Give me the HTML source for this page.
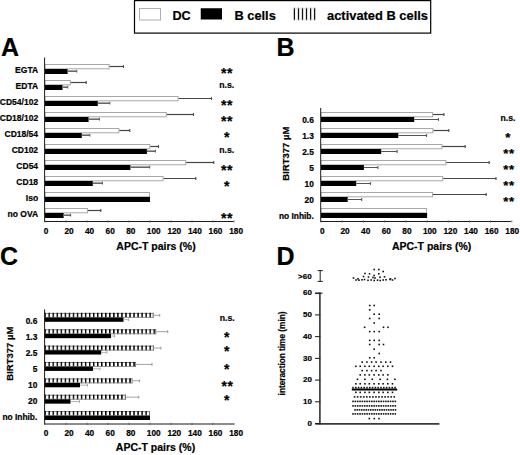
<!DOCTYPE html>
<html><head><meta charset="utf-8"><style>
html,body{margin:0;padding:0;background:#fff;}
svg{display:block;font-family:"Liberation Sans", sans-serif;}
text{stroke:#000;stroke-width:0.2px;}
</style></head><body>
<svg width="520" height="455" viewBox="0 0 520 455">
<rect width="520" height="455" fill="#fff"/>
<rect x="134.50" y="0.60" width="296.20" height="32.50" fill="none" stroke="#000" stroke-width="1.2" />
<rect x="139.50" y="8.50" width="21.00" height="11.50" fill="#fff" stroke="#b0b0b0" stroke-width="1" />
<text x="172.50" y="19.70" font-size="12.6" text-anchor="start" font-weight="bold" fill="#000" >DC</text>
<rect x="200.75" y="8.25" width="21.25" height="11.25" fill="#000" />
<text x="234.50" y="19.90" font-size="12.8" text-anchor="start" font-weight="bold" fill="#000" >B cells</text>
<line x1="294.40" y1="7.80" x2="294.40" y2="20.20" stroke="#111" stroke-width="1.3" />
<line x1="298.50" y1="7.80" x2="298.50" y2="20.20" stroke="#111" stroke-width="1.3" />
<line x1="302.50" y1="7.80" x2="302.50" y2="20.20" stroke="#111" stroke-width="1.3" />
<line x1="306.50" y1="7.80" x2="306.50" y2="20.20" stroke="#111" stroke-width="1.3" />
<line x1="310.60" y1="7.80" x2="310.60" y2="20.20" stroke="#111" stroke-width="1.3" />
<line x1="314.60" y1="7.80" x2="314.60" y2="20.20" stroke="#111" stroke-width="1.3" />
<line x1="294.00" y1="8.30" x2="315.00" y2="8.30" stroke="#ccc" stroke-width="0.6" />
<line x1="294.00" y1="19.80" x2="315.00" y2="19.80" stroke="#ccc" stroke-width="0.6" />
<text x="327.00" y="19.90" font-size="12.9" text-anchor="start" font-weight="bold" fill="#000" >activated B cells</text>
<text x="1.00" y="55.60" font-size="25" text-anchor="start" font-weight="bold" fill="#000" stroke="#000" stroke-width="0.4">A</text>
<text x="276.50" y="55.80" font-size="25" text-anchor="start" font-weight="bold" fill="#000" stroke="#000" stroke-width="0.4">B</text>
<text x="0.10" y="265.20" font-size="25" text-anchor="start" font-weight="bold" fill="#000" stroke="#000" stroke-width="0.4">C</text>
<text x="276.40" y="265.20" font-size="25" text-anchor="start" font-weight="bold" fill="#000" stroke="#000" stroke-width="0.4">D</text>
<rect x="45.00" y="64.50" width="64.10" height="4.30" fill="#fff" stroke="#a8a8a8" stroke-width="1" />
<line x1="109.60" y1="66.50" x2="123.50" y2="66.50" stroke="#454545" stroke-width="1.2" />
<line x1="123.50" y1="65.10" x2="123.50" y2="67.90" stroke="#454545" stroke-width="1.1" />
<rect x="45.00" y="69.00" width="22.60" height="5.00" fill="#000" />
<line x1="67.60" y1="71.20" x2="76.70" y2="71.20" stroke="#606060" stroke-width="1.5" />
<line x1="76.70" y1="69.80" x2="76.70" y2="72.60" stroke="#606060" stroke-width="1.1" />
<text x="38.10" y="72.80" font-size="8.5" text-anchor="end" font-weight="bold" fill="#000" >EGTA</text>
<text x="223.65" y="77.63" font-size="14.0" text-anchor="middle" font-weight="bold" fill="#000" stroke="#000" stroke-width="0.25">*</text>
<text x="229.75" y="77.63" font-size="14.0" text-anchor="middle" font-weight="bold" fill="#000" stroke="#000" stroke-width="0.25">*</text>
<rect x="45.00" y="80.50" width="25.30" height="4.30" fill="#fff" stroke="#a8a8a8" stroke-width="1" />
<line x1="70.80" y1="82.50" x2="86.20" y2="82.50" stroke="#454545" stroke-width="1.2" />
<line x1="86.20" y1="81.10" x2="86.20" y2="83.90" stroke="#454545" stroke-width="1.1" />
<rect x="45.00" y="85.00" width="17.50" height="5.00" fill="#000" />
<line x1="62.50" y1="87.20" x2="67.70" y2="87.20" stroke="#606060" stroke-width="1.5" />
<line x1="67.70" y1="85.80" x2="67.70" y2="88.60" stroke="#606060" stroke-width="1.1" />
<text x="38.10" y="88.85" font-size="8.5" text-anchor="end" font-weight="bold" fill="#000" >EDTA</text>
<text x="226.70" y="88.00" font-size="8.7" text-anchor="middle" font-weight="bold" fill="#000" >n.s.</text>
<rect x="45.00" y="96.50" width="133.10" height="4.30" fill="#fff" stroke="#a8a8a8" stroke-width="1" />
<line x1="178.60" y1="98.50" x2="211.50" y2="98.50" stroke="#454545" stroke-width="1.2" />
<line x1="211.50" y1="97.10" x2="211.50" y2="99.90" stroke="#454545" stroke-width="1.1" />
<rect x="45.00" y="101.00" width="52.80" height="5.00" fill="#000" />
<line x1="97.80" y1="103.20" x2="109.80" y2="103.20" stroke="#606060" stroke-width="1.5" />
<line x1="109.80" y1="101.80" x2="109.80" y2="104.60" stroke="#606060" stroke-width="1.1" />
<text x="38.10" y="104.90" font-size="8.5" text-anchor="end" font-weight="bold" fill="#000" >CD54/102</text>
<text x="223.65" y="109.93" font-size="14.0" text-anchor="middle" font-weight="bold" fill="#000" stroke="#000" stroke-width="0.25">*</text>
<text x="229.75" y="109.93" font-size="14.0" text-anchor="middle" font-weight="bold" fill="#000" stroke="#000" stroke-width="0.25">*</text>
<rect x="45.00" y="112.50" width="121.30" height="4.30" fill="#fff" stroke="#a8a8a8" stroke-width="1" />
<line x1="166.80" y1="114.50" x2="193.50" y2="114.50" stroke="#454545" stroke-width="1.2" />
<line x1="193.50" y1="113.10" x2="193.50" y2="115.90" stroke="#454545" stroke-width="1.1" />
<rect x="45.00" y="117.00" width="43.60" height="5.00" fill="#000" />
<line x1="88.60" y1="119.20" x2="99.40" y2="119.20" stroke="#606060" stroke-width="1.5" />
<line x1="99.40" y1="117.80" x2="99.40" y2="120.60" stroke="#606060" stroke-width="1.1" />
<text x="38.10" y="120.95" font-size="8.5" text-anchor="end" font-weight="bold" fill="#000" >CD18/102</text>
<text x="223.65" y="126.08" font-size="14.0" text-anchor="middle" font-weight="bold" fill="#000" stroke="#000" stroke-width="0.25">*</text>
<text x="229.75" y="126.08" font-size="14.0" text-anchor="middle" font-weight="bold" fill="#000" stroke="#000" stroke-width="0.25">*</text>
<rect x="45.00" y="128.50" width="73.90" height="4.30" fill="#fff" stroke="#a8a8a8" stroke-width="1" />
<line x1="119.40" y1="130.50" x2="129.80" y2="130.50" stroke="#454545" stroke-width="1.2" />
<line x1="129.80" y1="129.10" x2="129.80" y2="131.90" stroke="#454545" stroke-width="1.1" />
<rect x="45.00" y="133.00" width="36.80" height="5.00" fill="#000" />
<line x1="81.80" y1="135.20" x2="89.80" y2="135.20" stroke="#606060" stroke-width="1.5" />
<line x1="89.80" y1="133.80" x2="89.80" y2="136.60" stroke="#606060" stroke-width="1.1" />
<text x="38.10" y="137.00" font-size="8.5" text-anchor="end" font-weight="bold" fill="#000" >CD18/54</text>
<text x="226.70" y="142.23" font-size="14.0" text-anchor="middle" font-weight="bold" fill="#000" stroke="#000" stroke-width="0.25">*</text>
<rect x="45.00" y="144.50" width="104.90" height="4.30" fill="#fff" stroke="#a8a8a8" stroke-width="1" />
<line x1="150.40" y1="146.50" x2="158.50" y2="146.50" stroke="#454545" stroke-width="1.2" />
<line x1="158.50" y1="145.10" x2="158.50" y2="147.90" stroke="#454545" stroke-width="1.1" />
<rect x="45.00" y="149.00" width="101.90" height="5.00" fill="#000" />
<line x1="146.90" y1="151.20" x2="155.40" y2="151.20" stroke="#606060" stroke-width="1.5" />
<line x1="155.40" y1="149.80" x2="155.40" y2="152.60" stroke="#606060" stroke-width="1.1" />
<text x="38.10" y="153.05" font-size="8.5" text-anchor="end" font-weight="bold" fill="#000" >CD102</text>
<text x="226.70" y="153.00" font-size="8.7" text-anchor="middle" font-weight="bold" fill="#000" >n.s.</text>
<rect x="45.00" y="160.50" width="140.70" height="4.30" fill="#fff" stroke="#a8a8a8" stroke-width="1" />
<line x1="186.20" y1="162.50" x2="213.80" y2="162.50" stroke="#454545" stroke-width="1.2" />
<line x1="213.80" y1="161.10" x2="213.80" y2="163.90" stroke="#454545" stroke-width="1.1" />
<rect x="45.00" y="165.00" width="85.40" height="5.00" fill="#000" />
<line x1="130.40" y1="167.20" x2="149.60" y2="167.20" stroke="#606060" stroke-width="1.5" />
<line x1="149.60" y1="165.80" x2="149.60" y2="168.60" stroke="#606060" stroke-width="1.1" />
<text x="38.10" y="169.10" font-size="8.5" text-anchor="end" font-weight="bold" fill="#000" >CD54</text>
<text x="223.65" y="174.53" font-size="14.0" text-anchor="middle" font-weight="bold" fill="#000" stroke="#000" stroke-width="0.25">*</text>
<text x="229.75" y="174.53" font-size="14.0" text-anchor="middle" font-weight="bold" fill="#000" stroke="#000" stroke-width="0.25">*</text>
<rect x="45.00" y="176.50" width="118.10" height="4.30" fill="#fff" stroke="#a8a8a8" stroke-width="1" />
<line x1="163.60" y1="178.50" x2="195.80" y2="178.50" stroke="#454545" stroke-width="1.2" />
<line x1="195.80" y1="177.10" x2="195.80" y2="179.90" stroke="#454545" stroke-width="1.1" />
<rect x="45.00" y="181.00" width="47.80" height="5.00" fill="#000" />
<line x1="92.80" y1="183.20" x2="102.40" y2="183.20" stroke="#606060" stroke-width="1.5" />
<line x1="102.40" y1="181.80" x2="102.40" y2="184.60" stroke="#606060" stroke-width="1.1" />
<text x="38.10" y="185.15" font-size="8.5" text-anchor="end" font-weight="bold" fill="#000" >CD18</text>
<text x="226.70" y="190.68" font-size="14.0" text-anchor="middle" font-weight="bold" fill="#000" stroke="#000" stroke-width="0.25">*</text>
<rect x="45.00" y="192.50" width="104.50" height="4.30" fill="#fff" stroke="#a8a8a8" stroke-width="1" />
<rect x="45.00" y="197.00" width="105.00" height="5.00" fill="#000" />
<text x="38.10" y="201.20" font-size="8.5" text-anchor="end" font-weight="bold" fill="#000" >Iso</text>
<rect x="45.00" y="208.50" width="42.50" height="4.30" fill="#fff" stroke="#a8a8a8" stroke-width="1" />
<line x1="88.00" y1="210.50" x2="100.80" y2="210.50" stroke="#454545" stroke-width="1.2" />
<line x1="100.80" y1="209.10" x2="100.80" y2="211.90" stroke="#454545" stroke-width="1.1" />
<rect x="45.00" y="213.00" width="18.60" height="5.00" fill="#000" />
<line x1="63.60" y1="215.20" x2="70.60" y2="215.20" stroke="#606060" stroke-width="1.5" />
<line x1="70.60" y1="213.80" x2="70.60" y2="216.60" stroke="#606060" stroke-width="1.1" />
<text x="38.10" y="217.25" font-size="8.5" text-anchor="end" font-weight="bold" fill="#000" >no OVA</text>
<text x="223.65" y="222.98" font-size="14.0" text-anchor="middle" font-weight="bold" fill="#000" stroke="#000" stroke-width="0.25">*</text>
<text x="229.75" y="222.98" font-size="14.0" text-anchor="middle" font-weight="bold" fill="#000" stroke="#000" stroke-width="0.25">*</text>
<line x1="44.60" y1="57.50" x2="44.60" y2="222.00" stroke="#1a1a1a" stroke-width="1" />
<line x1="44.60" y1="221.50" x2="233.60" y2="221.50" stroke="#1a1a1a" stroke-width="1" />
<line x1="45.00" y1="220.30" x2="45.00" y2="222.60" stroke="#555" stroke-width="0.8" />
<text x="43.80" y="233.80" font-size="8.3" text-anchor="start" font-weight="bold" fill="#000" >0</text>
<line x1="66.00" y1="220.30" x2="66.00" y2="222.60" stroke="#555" stroke-width="0.8" />
<text x="64.40" y="233.80" font-size="8.3" text-anchor="start" font-weight="bold" fill="#000" >20</text>
<line x1="87.00" y1="220.30" x2="87.00" y2="222.60" stroke="#555" stroke-width="0.8" />
<text x="85.00" y="233.80" font-size="8.3" text-anchor="start" font-weight="bold" fill="#000" >40</text>
<line x1="108.00" y1="220.30" x2="108.00" y2="222.60" stroke="#555" stroke-width="0.8" />
<text x="105.60" y="233.80" font-size="8.3" text-anchor="start" font-weight="bold" fill="#000" >60</text>
<line x1="129.00" y1="220.30" x2="129.00" y2="222.60" stroke="#555" stroke-width="0.8" />
<text x="126.20" y="233.80" font-size="8.3" text-anchor="start" font-weight="bold" fill="#000" >80</text>
<line x1="150.00" y1="220.30" x2="150.00" y2="222.60" stroke="#555" stroke-width="0.8" />
<text x="146.80" y="233.80" font-size="8.3" text-anchor="start" font-weight="bold" fill="#000" >100</text>
<line x1="171.00" y1="220.30" x2="171.00" y2="222.60" stroke="#555" stroke-width="0.8" />
<text x="167.40" y="233.80" font-size="8.3" text-anchor="start" font-weight="bold" fill="#000" >120</text>
<line x1="192.00" y1="220.30" x2="192.00" y2="222.60" stroke="#555" stroke-width="0.8" />
<text x="188.00" y="233.80" font-size="8.3" text-anchor="start" font-weight="bold" fill="#000" >140</text>
<line x1="213.00" y1="220.30" x2="213.00" y2="222.60" stroke="#555" stroke-width="0.8" />
<text x="208.60" y="233.80" font-size="8.3" text-anchor="start" font-weight="bold" fill="#000" >160</text>
<line x1="234.00" y1="220.30" x2="234.00" y2="222.60" stroke="#555" stroke-width="0.8" />
<text x="229.20" y="233.80" font-size="8.3" text-anchor="start" font-weight="bold" fill="#000" >180</text>
<text x="116.30" y="250.40" font-size="10.5" text-anchor="start" font-weight="bold" fill="#000" >APC-T pairs (%)</text>
<rect x="321.00" y="112.50" width="111.60" height="4.30" fill="#fff" stroke="#a8a8a8" stroke-width="1" />
<line x1="433.10" y1="114.50" x2="443.90" y2="114.50" stroke="#454545" stroke-width="1.2" />
<line x1="443.90" y1="113.10" x2="443.90" y2="115.90" stroke="#454545" stroke-width="1.1" />
<rect x="321.00" y="117.00" width="93.20" height="5.00" fill="#000" />
<line x1="414.20" y1="119.50" x2="438.50" y2="119.50" stroke="#555" stroke-width="1.0" />
<line x1="438.50" y1="118.10" x2="438.50" y2="120.90" stroke="#555" stroke-width="1.1" />
<text x="313.80" y="122.50" font-size="8.4" text-anchor="end" font-weight="bold" fill="#000" >0.6</text>
<text x="507.90" y="120.50" font-size="8.7" text-anchor="middle" font-weight="bold" fill="#000" >n.s.</text>
<rect x="321.00" y="128.50" width="111.90" height="4.30" fill="#fff" stroke="#a8a8a8" stroke-width="1" />
<line x1="433.40" y1="130.50" x2="448.80" y2="130.50" stroke="#454545" stroke-width="1.2" />
<line x1="448.80" y1="129.10" x2="448.80" y2="131.90" stroke="#454545" stroke-width="1.1" />
<rect x="321.00" y="133.00" width="77.30" height="5.00" fill="#000" />
<line x1="398.30" y1="135.50" x2="426.60" y2="135.50" stroke="#555" stroke-width="1.0" />
<line x1="426.60" y1="134.10" x2="426.60" y2="136.90" stroke="#555" stroke-width="1.1" />
<text x="313.80" y="138.50" font-size="8.4" text-anchor="end" font-weight="bold" fill="#000" >1.3</text>
<text x="507.70" y="141.93" font-size="13.2" text-anchor="middle" font-weight="bold" fill="#000" stroke="#000" stroke-width="0.25">*</text>
<rect x="321.00" y="144.50" width="120.90" height="4.30" fill="#fff" stroke="#a8a8a8" stroke-width="1" />
<line x1="442.40" y1="146.50" x2="465.20" y2="146.50" stroke="#454545" stroke-width="1.2" />
<line x1="465.20" y1="145.10" x2="465.20" y2="147.90" stroke="#454545" stroke-width="1.1" />
<rect x="321.00" y="149.00" width="60.20" height="5.00" fill="#000" />
<line x1="381.20" y1="151.50" x2="397.10" y2="151.50" stroke="#555" stroke-width="1.0" />
<line x1="397.10" y1="150.10" x2="397.10" y2="152.90" stroke="#555" stroke-width="1.1" />
<text x="313.80" y="154.50" font-size="8.4" text-anchor="end" font-weight="bold" fill="#000" >2.5</text>
<text x="505.70" y="157.93" font-size="13.2" text-anchor="middle" font-weight="bold" fill="#000" stroke="#000" stroke-width="0.25">*</text>
<text x="511.50" y="157.93" font-size="13.2" text-anchor="middle" font-weight="bold" fill="#000" stroke="#000" stroke-width="0.25">*</text>
<rect x="321.00" y="160.50" width="124.90" height="4.30" fill="#fff" stroke="#a8a8a8" stroke-width="1" />
<line x1="446.40" y1="162.50" x2="489.20" y2="162.50" stroke="#454545" stroke-width="1.2" />
<line x1="489.20" y1="161.10" x2="489.20" y2="163.90" stroke="#454545" stroke-width="1.1" />
<rect x="321.00" y="165.00" width="42.90" height="5.00" fill="#000" />
<line x1="363.90" y1="167.50" x2="377.90" y2="167.50" stroke="#555" stroke-width="1.0" />
<line x1="377.90" y1="166.10" x2="377.90" y2="168.90" stroke="#555" stroke-width="1.1" />
<text x="313.80" y="170.50" font-size="8.4" text-anchor="end" font-weight="bold" fill="#000" >5</text>
<text x="505.70" y="173.93" font-size="13.2" text-anchor="middle" font-weight="bold" fill="#000" stroke="#000" stroke-width="0.25">*</text>
<text x="511.50" y="173.93" font-size="13.2" text-anchor="middle" font-weight="bold" fill="#000" stroke="#000" stroke-width="0.25">*</text>
<rect x="321.00" y="176.50" width="121.70" height="4.30" fill="#fff" stroke="#a8a8a8" stroke-width="1" />
<line x1="443.20" y1="178.50" x2="496.00" y2="178.50" stroke="#454545" stroke-width="1.2" />
<line x1="496.00" y1="177.10" x2="496.00" y2="179.90" stroke="#454545" stroke-width="1.1" />
<rect x="321.00" y="181.00" width="35.20" height="5.00" fill="#000" />
<line x1="356.20" y1="183.50" x2="370.50" y2="183.50" stroke="#555" stroke-width="1.0" />
<line x1="370.50" y1="182.10" x2="370.50" y2="184.90" stroke="#555" stroke-width="1.1" />
<text x="313.80" y="186.50" font-size="8.4" text-anchor="end" font-weight="bold" fill="#000" >10</text>
<text x="505.70" y="189.93" font-size="13.2" text-anchor="middle" font-weight="bold" fill="#000" stroke="#000" stroke-width="0.25">*</text>
<text x="511.50" y="189.93" font-size="13.2" text-anchor="middle" font-weight="bold" fill="#000" stroke="#000" stroke-width="0.25">*</text>
<rect x="321.00" y="192.50" width="111.50" height="4.30" fill="#fff" stroke="#a8a8a8" stroke-width="1" />
<line x1="433.00" y1="194.50" x2="486.20" y2="194.50" stroke="#454545" stroke-width="1.2" />
<line x1="486.20" y1="193.10" x2="486.20" y2="195.90" stroke="#454545" stroke-width="1.1" />
<rect x="321.00" y="197.00" width="26.70" height="5.00" fill="#000" />
<line x1="347.70" y1="199.50" x2="361.70" y2="199.50" stroke="#555" stroke-width="1.0" />
<line x1="361.70" y1="198.10" x2="361.70" y2="200.90" stroke="#555" stroke-width="1.1" />
<text x="313.80" y="202.50" font-size="8.4" text-anchor="end" font-weight="bold" fill="#000" >20</text>
<text x="505.70" y="205.93" font-size="13.2" text-anchor="middle" font-weight="bold" fill="#000" stroke="#000" stroke-width="0.25">*</text>
<text x="511.50" y="205.93" font-size="13.2" text-anchor="middle" font-weight="bold" fill="#000" stroke="#000" stroke-width="0.25">*</text>
<rect x="321.00" y="208.50" width="105.60" height="4.30" fill="#fff" stroke="#a8a8a8" stroke-width="1" />
<rect x="321.00" y="213.00" width="106.10" height="5.00" fill="#000" />
<text x="313.80" y="218.50" font-size="8.4" text-anchor="end" font-weight="bold" fill="#000" >no Inhib.</text>
<line x1="320.70" y1="107.90" x2="320.70" y2="222.00" stroke="#1a1a1a" stroke-width="1" />
<line x1="320.70" y1="221.50" x2="510.80" y2="221.50" stroke="#1a1a1a" stroke-width="1" />
<line x1="321.00" y1="220.30" x2="321.00" y2="222.60" stroke="#555" stroke-width="0.8" />
<text x="319.90" y="234.00" font-size="8.3" text-anchor="start" font-weight="bold" fill="#000" >0</text>
<line x1="342.20" y1="220.30" x2="342.20" y2="222.60" stroke="#555" stroke-width="0.8" />
<text x="340.50" y="234.00" font-size="8.3" text-anchor="start" font-weight="bold" fill="#000" >20</text>
<line x1="363.40" y1="220.30" x2="363.40" y2="222.60" stroke="#555" stroke-width="0.8" />
<text x="361.10" y="234.00" font-size="8.3" text-anchor="start" font-weight="bold" fill="#000" >40</text>
<line x1="384.60" y1="220.30" x2="384.60" y2="222.60" stroke="#555" stroke-width="0.8" />
<text x="381.70" y="234.00" font-size="8.3" text-anchor="start" font-weight="bold" fill="#000" >60</text>
<line x1="405.80" y1="220.30" x2="405.80" y2="222.60" stroke="#555" stroke-width="0.8" />
<text x="402.30" y="234.00" font-size="8.3" text-anchor="start" font-weight="bold" fill="#000" >80</text>
<line x1="427.00" y1="220.30" x2="427.00" y2="222.60" stroke="#555" stroke-width="0.8" />
<text x="422.90" y="234.00" font-size="8.3" text-anchor="start" font-weight="bold" fill="#000" >100</text>
<line x1="448.20" y1="220.30" x2="448.20" y2="222.60" stroke="#555" stroke-width="0.8" />
<text x="443.50" y="234.00" font-size="8.3" text-anchor="start" font-weight="bold" fill="#000" >120</text>
<line x1="469.40" y1="220.30" x2="469.40" y2="222.60" stroke="#555" stroke-width="0.8" />
<text x="464.10" y="234.00" font-size="8.3" text-anchor="start" font-weight="bold" fill="#000" >140</text>
<line x1="490.60" y1="220.30" x2="490.60" y2="222.60" stroke="#555" stroke-width="0.8" />
<text x="484.70" y="234.00" font-size="8.3" text-anchor="start" font-weight="bold" fill="#000" >160</text>
<line x1="511.80" y1="220.30" x2="511.80" y2="222.60" stroke="#555" stroke-width="0.8" />
<text x="505.30" y="234.00" font-size="8.3" text-anchor="start" font-weight="bold" fill="#000" >180</text>
<text x="391.90" y="250.00" font-size="10.5" text-anchor="start" font-weight="bold" fill="#000" >APC-T pairs (%)</text>
<text transform="translate(289.0,180.7) rotate(-90)" font-size="9.5" font-weight="bold">BIRT377 &#181;M</text>
<defs><pattern id="vs" patternUnits="userSpaceOnUse" x="44.45" y="0" width="4.04" height="10"><rect x="0" y="0" width="1.45" height="10" fill="#000"/></pattern></defs>
<rect x="44.60" y="312.80" width="108.90" height="5.00" fill="#fff" />
<line x1="44.60" y1="313.40" x2="153.50" y2="313.40" stroke="#8a8a8a" stroke-width="1" />
<rect x="44.60" y="312.80" width="108.90" height="5.00" fill="url(#vs)" />
<line x1="44.60" y1="317.40" x2="153.50" y2="317.40" stroke="#8a8a8a" stroke-width="0.9" />
<line x1="153.05" y1="312.80" x2="153.05" y2="317.80" stroke="#777" stroke-width="0.9" />
<line x1="153.50" y1="315.30" x2="159.70" y2="315.30" stroke="#999" stroke-width="0.9" />
<line x1="159.70" y1="313.90" x2="159.70" y2="316.70" stroke="#999" stroke-width="1.1" />
<rect x="44.60" y="317.50" width="78.90" height="4.30" fill="#000" />
<line x1="123.50" y1="319.70" x2="128.50" y2="319.70" stroke="#aaa" stroke-width="0.9" />
<line x1="128.50" y1="318.30" x2="128.50" y2="321.10" stroke="#aaa" stroke-width="1.1" />
<text x="37.30" y="323.90" font-size="8.4" text-anchor="end" font-weight="bold" fill="#000" >0.6</text>
<text x="227.20" y="320.70" font-size="8.7" text-anchor="middle" font-weight="bold" fill="#000" >n.s.</text>
<rect x="44.60" y="329.17" width="111.60" height="5.00" fill="#fff" />
<line x1="44.60" y1="329.77" x2="156.20" y2="329.77" stroke="#8a8a8a" stroke-width="1" />
<rect x="44.60" y="329.17" width="111.60" height="5.00" fill="url(#vs)" />
<line x1="44.60" y1="333.77" x2="156.20" y2="333.77" stroke="#8a8a8a" stroke-width="0.9" />
<line x1="155.75" y1="329.17" x2="155.75" y2="334.17" stroke="#777" stroke-width="0.9" />
<line x1="156.20" y1="331.67" x2="167.70" y2="331.67" stroke="#999" stroke-width="0.9" />
<line x1="167.70" y1="330.27" x2="167.70" y2="333.07" stroke="#999" stroke-width="1.1" />
<rect x="44.60" y="333.87" width="66.40" height="4.30" fill="#000" />
<line x1="111.00" y1="336.07" x2="114.60" y2="336.07" stroke="#aaa" stroke-width="0.9" />
<line x1="114.60" y1="334.67" x2="114.60" y2="337.47" stroke="#aaa" stroke-width="1.1" />
<text x="37.30" y="339.93" font-size="8.4" text-anchor="end" font-weight="bold" fill="#000" >1.3</text>
<text x="226.60" y="341.73" font-size="13.8" text-anchor="middle" font-weight="bold" fill="#000" stroke="#000" stroke-width="0.25">*</text>
<rect x="44.60" y="345.54" width="109.20" height="5.00" fill="#fff" />
<line x1="44.60" y1="346.14" x2="153.80" y2="346.14" stroke="#8a8a8a" stroke-width="1" />
<rect x="44.60" y="345.54" width="109.20" height="5.00" fill="url(#vs)" />
<line x1="44.60" y1="350.14" x2="153.80" y2="350.14" stroke="#8a8a8a" stroke-width="0.9" />
<line x1="153.35" y1="345.54" x2="153.35" y2="350.54" stroke="#777" stroke-width="0.9" />
<line x1="153.80" y1="348.04" x2="160.80" y2="348.04" stroke="#999" stroke-width="0.9" />
<line x1="160.80" y1="346.64" x2="160.80" y2="349.44" stroke="#999" stroke-width="1.1" />
<rect x="44.60" y="350.24" width="56.60" height="4.30" fill="#000" />
<line x1="101.20" y1="352.44" x2="106.90" y2="352.44" stroke="#aaa" stroke-width="0.9" />
<line x1="106.90" y1="351.04" x2="106.90" y2="353.84" stroke="#aaa" stroke-width="1.1" />
<text x="37.30" y="355.96" font-size="8.4" text-anchor="end" font-weight="bold" fill="#000" >2.5</text>
<text x="226.60" y="355.63" font-size="13.8" text-anchor="middle" font-weight="bold" fill="#000" stroke="#000" stroke-width="0.25">*</text>
<rect x="44.60" y="361.91" width="91.40" height="5.00" fill="#fff" />
<line x1="44.60" y1="362.51" x2="136.00" y2="362.51" stroke="#8a8a8a" stroke-width="1" />
<rect x="44.60" y="361.91" width="91.40" height="5.00" fill="url(#vs)" />
<line x1="44.60" y1="366.51" x2="136.00" y2="366.51" stroke="#8a8a8a" stroke-width="0.9" />
<line x1="135.55" y1="361.91" x2="135.55" y2="366.91" stroke="#777" stroke-width="0.9" />
<line x1="136.00" y1="364.41" x2="152.00" y2="364.41" stroke="#999" stroke-width="0.9" />
<line x1="152.00" y1="363.01" x2="152.00" y2="365.81" stroke="#999" stroke-width="1.1" />
<rect x="44.60" y="366.61" width="48.40" height="4.30" fill="#000" />
<line x1="93.00" y1="368.81" x2="100.00" y2="368.81" stroke="#aaa" stroke-width="0.9" />
<line x1="100.00" y1="367.41" x2="100.00" y2="370.21" stroke="#aaa" stroke-width="1.1" />
<text x="37.30" y="371.99" font-size="8.4" text-anchor="end" font-weight="bold" fill="#000" >5</text>
<text x="226.60" y="373.83" font-size="13.8" text-anchor="middle" font-weight="bold" fill="#000" stroke="#000" stroke-width="0.25">*</text>
<rect x="44.60" y="378.28" width="87.90" height="5.00" fill="#fff" />
<line x1="44.60" y1="378.88" x2="132.50" y2="378.88" stroke="#8a8a8a" stroke-width="1" />
<rect x="44.60" y="378.28" width="87.90" height="5.00" fill="url(#vs)" />
<line x1="44.60" y1="382.88" x2="132.50" y2="382.88" stroke="#8a8a8a" stroke-width="0.9" />
<line x1="132.05" y1="378.28" x2="132.05" y2="383.28" stroke="#777" stroke-width="0.9" />
<line x1="132.50" y1="380.78" x2="139.50" y2="380.78" stroke="#999" stroke-width="0.9" />
<line x1="139.50" y1="379.38" x2="139.50" y2="382.18" stroke="#999" stroke-width="1.1" />
<rect x="44.60" y="382.98" width="35.40" height="4.30" fill="#000" />
<line x1="80.00" y1="385.18" x2="87.50" y2="385.18" stroke="#aaa" stroke-width="0.9" />
<line x1="87.50" y1="383.78" x2="87.50" y2="386.58" stroke="#aaa" stroke-width="1.1" />
<text x="37.30" y="388.02" font-size="8.4" text-anchor="end" font-weight="bold" fill="#000" >10</text>
<text x="224.20" y="390.73" font-size="13.8" text-anchor="middle" font-weight="bold" fill="#000" stroke="#000" stroke-width="0.25">*</text>
<text x="230.20" y="390.73" font-size="13.8" text-anchor="middle" font-weight="bold" fill="#000" stroke="#000" stroke-width="0.25">*</text>
<rect x="44.60" y="394.65" width="81.15" height="5.00" fill="#fff" />
<line x1="44.60" y1="395.25" x2="125.75" y2="395.25" stroke="#8a8a8a" stroke-width="1" />
<rect x="44.60" y="394.65" width="81.15" height="5.00" fill="url(#vs)" />
<line x1="44.60" y1="399.25" x2="125.75" y2="399.25" stroke="#8a8a8a" stroke-width="0.9" />
<line x1="125.30" y1="394.65" x2="125.30" y2="399.65" stroke="#777" stroke-width="0.9" />
<line x1="125.75" y1="397.15" x2="138.75" y2="397.15" stroke="#999" stroke-width="0.9" />
<line x1="138.75" y1="395.75" x2="138.75" y2="398.55" stroke="#999" stroke-width="1.1" />
<rect x="44.60" y="399.35" width="25.90" height="4.30" fill="#000" />
<line x1="70.50" y1="401.55" x2="79.50" y2="401.55" stroke="#aaa" stroke-width="0.9" />
<line x1="79.50" y1="400.15" x2="79.50" y2="402.95" stroke="#aaa" stroke-width="1.1" />
<text x="37.30" y="404.05" font-size="8.4" text-anchor="end" font-weight="bold" fill="#000" >20</text>
<text x="226.60" y="405.23" font-size="13.8" text-anchor="middle" font-weight="bold" fill="#000" stroke="#000" stroke-width="0.25">*</text>
<rect x="44.60" y="411.02" width="105.40" height="5.00" fill="#fff" />
<line x1="44.60" y1="411.62" x2="150.00" y2="411.62" stroke="#8a8a8a" stroke-width="1" />
<rect x="44.60" y="411.02" width="105.40" height="5.00" fill="url(#vs)" />
<line x1="44.60" y1="415.62" x2="150.00" y2="415.62" stroke="#8a8a8a" stroke-width="0.9" />
<line x1="149.55" y1="411.02" x2="149.55" y2="416.02" stroke="#777" stroke-width="0.9" />
<rect x="44.60" y="415.72" width="105.40" height="4.30" fill="#000" />
<text x="37.30" y="420.08" font-size="8.4" text-anchor="end" font-weight="bold" fill="#000" >no Inhib.</text>
<line x1="44.60" y1="309.40" x2="44.60" y2="424.50" stroke="#1a1a1a" stroke-width="1" />
<line x1="44.60" y1="424.00" x2="233.75" y2="424.00" stroke="#1a1a1a" stroke-width="1" />
<line x1="45.00" y1="422.80" x2="45.00" y2="425.10" stroke="#555" stroke-width="0.8" />
<text x="43.80" y="435.70" font-size="8.3" text-anchor="start" font-weight="bold" fill="#000" >0</text>
<line x1="66.00" y1="422.80" x2="66.00" y2="425.10" stroke="#555" stroke-width="0.8" />
<text x="64.40" y="435.70" font-size="8.3" text-anchor="start" font-weight="bold" fill="#000" >20</text>
<line x1="87.00" y1="422.80" x2="87.00" y2="425.10" stroke="#555" stroke-width="0.8" />
<text x="85.00" y="435.70" font-size="8.3" text-anchor="start" font-weight="bold" fill="#000" >40</text>
<line x1="108.00" y1="422.80" x2="108.00" y2="425.10" stroke="#555" stroke-width="0.8" />
<text x="105.60" y="435.70" font-size="8.3" text-anchor="start" font-weight="bold" fill="#000" >60</text>
<line x1="129.00" y1="422.80" x2="129.00" y2="425.10" stroke="#555" stroke-width="0.8" />
<text x="126.20" y="435.70" font-size="8.3" text-anchor="start" font-weight="bold" fill="#000" >80</text>
<line x1="150.00" y1="422.80" x2="150.00" y2="425.10" stroke="#555" stroke-width="0.8" />
<text x="146.80" y="435.70" font-size="8.3" text-anchor="start" font-weight="bold" fill="#000" >100</text>
<line x1="171.00" y1="422.80" x2="171.00" y2="425.10" stroke="#555" stroke-width="0.8" />
<text x="167.40" y="435.70" font-size="8.3" text-anchor="start" font-weight="bold" fill="#000" >120</text>
<line x1="192.00" y1="422.80" x2="192.00" y2="425.10" stroke="#555" stroke-width="0.8" />
<text x="188.00" y="435.70" font-size="8.3" text-anchor="start" font-weight="bold" fill="#000" >140</text>
<line x1="213.00" y1="422.80" x2="213.00" y2="425.10" stroke="#555" stroke-width="0.8" />
<text x="208.60" y="435.70" font-size="8.3" text-anchor="start" font-weight="bold" fill="#000" >160</text>
<line x1="234.00" y1="422.80" x2="234.00" y2="425.10" stroke="#555" stroke-width="0.8" />
<text x="229.20" y="435.70" font-size="8.3" text-anchor="start" font-weight="bold" fill="#000" >180</text>
<text x="115.80" y="451.10" font-size="10.5" text-anchor="start" font-weight="bold" fill="#000" >APC-T pairs (%)</text>
<text transform="translate(13.4,380.7) rotate(-90)" font-size="9.5" font-weight="bold">BIRT377 &#181;M</text>
<line x1="319.90" y1="292.60" x2="319.90" y2="424.60" stroke="#333" stroke-width="1.6" />
<line x1="315.30" y1="423.90" x2="439.40" y2="423.90" stroke="#3a3a3a" stroke-width="1.6" />
<line x1="315.00" y1="293.20" x2="320.30" y2="293.20" stroke="#1a1a1a" stroke-width="1" />
<text x="311.90" y="295.40" font-size="8.0" text-anchor="end" font-weight="bold" fill="#000" >60</text>
<line x1="315.00" y1="314.92" x2="320.30" y2="314.92" stroke="#1a1a1a" stroke-width="1" />
<text x="311.90" y="317.12" font-size="8.0" text-anchor="end" font-weight="bold" fill="#000" >50</text>
<line x1="315.00" y1="336.64" x2="320.30" y2="336.64" stroke="#1a1a1a" stroke-width="1" />
<text x="311.90" y="338.84" font-size="8.0" text-anchor="end" font-weight="bold" fill="#000" >40</text>
<line x1="315.00" y1="358.36" x2="320.30" y2="358.36" stroke="#1a1a1a" stroke-width="1" />
<text x="311.90" y="360.56" font-size="8.0" text-anchor="end" font-weight="bold" fill="#000" >30</text>
<line x1="315.00" y1="380.08" x2="320.30" y2="380.08" stroke="#1a1a1a" stroke-width="1" />
<text x="311.90" y="382.28" font-size="8.0" text-anchor="end" font-weight="bold" fill="#000" >20</text>
<line x1="315.00" y1="401.80" x2="320.30" y2="401.80" stroke="#1a1a1a" stroke-width="1" />
<text x="311.90" y="404.00" font-size="8.0" text-anchor="end" font-weight="bold" fill="#000" >10</text>
<line x1="315.00" y1="423.52" x2="320.30" y2="423.52" stroke="#1a1a1a" stroke-width="1" />
<text x="311.90" y="425.72" font-size="8.0" text-anchor="end" font-weight="bold" fill="#000" >0</text>
<line x1="315.00" y1="293.20" x2="322.60" y2="293.20" stroke="#1a1a1a" stroke-width="1" />
<text x="311.60" y="279.00" font-size="8.0" text-anchor="end" font-weight="bold" fill="#000" >&gt;60</text>
<line x1="320.20" y1="270.10" x2="320.20" y2="281.90" stroke="#222" stroke-width="1" />
<line x1="317.70" y1="270.60" x2="322.80" y2="270.60" stroke="#222" stroke-width="1" />
<line x1="317.70" y1="281.40" x2="322.80" y2="281.40" stroke="#222" stroke-width="1" />
<text transform="translate(285.2,395.4) rotate(-90)" font-size="8.25" font-weight="bold">interaction time (min)</text>
<rect x="373.40" y="268.70" width="1.60" height="1.60" fill="#111" />
<rect x="378.00" y="268.70" width="1.60" height="1.60" fill="#111" />
<rect x="382.40" y="270.70" width="1.60" height="1.60" fill="#111" />
<rect x="364.20" y="272.70" width="1.60" height="1.60" fill="#111" />
<rect x="368.70" y="273.00" width="1.60" height="1.60" fill="#111" />
<rect x="378.00" y="273.00" width="1.60" height="1.60" fill="#111" />
<rect x="362.70" y="275.70" width="1.60" height="1.60" fill="#111" />
<rect x="367.70" y="276.20" width="1.60" height="1.60" fill="#111" />
<rect x="373.40" y="274.70" width="1.60" height="1.60" fill="#111" />
<rect x="372.20" y="276.70" width="1.60" height="1.60" fill="#111" />
<rect x="374.20" y="277.20" width="1.60" height="1.60" fill="#111" />
<rect x="379.20" y="276.40" width="1.60" height="1.60" fill="#111" />
<rect x="383.70" y="276.00" width="1.60" height="1.60" fill="#111" />
<rect x="352.70" y="277.20" width="1.60" height="1.60" fill="#111" />
<rect x="355.20" y="279.20" width="1.60" height="1.60" fill="#111" />
<rect x="357.20" y="278.00" width="1.60" height="1.60" fill="#111" />
<rect x="358.20" y="279.40" width="1.60" height="1.60" fill="#111" />
<rect x="361.20" y="279.00" width="1.60" height="1.60" fill="#111" />
<rect x="363.70" y="278.70" width="1.60" height="1.60" fill="#111" />
<rect x="367.20" y="279.50" width="1.60" height="1.60" fill="#111" />
<rect x="370.40" y="279.20" width="1.60" height="1.60" fill="#111" />
<rect x="373.40" y="279.70" width="1.60" height="1.60" fill="#111" />
<rect x="376.70" y="279.40" width="1.60" height="1.60" fill="#111" />
<rect x="379.40" y="279.70" width="1.60" height="1.60" fill="#111" />
<rect x="382.40" y="279.20" width="1.60" height="1.60" fill="#111" />
<rect x="385.20" y="279.00" width="1.60" height="1.60" fill="#111" />
<rect x="389.20" y="278.70" width="1.60" height="1.60" fill="#111" />
<rect x="391.70" y="279.20" width="1.60" height="1.60" fill="#111" />
<rect x="394.20" y="277.70" width="1.60" height="1.60" fill="#111" />
<rect x="389.70" y="278.00" width="1.60" height="1.60" fill="#111" />
<rect x="368.90" y="304.70" width="1.60" height="1.60" fill="#111" />
<rect x="373.40" y="304.70" width="1.60" height="1.60" fill="#111" />
<rect x="368.90" y="309.10" width="1.60" height="1.60" fill="#111" />
<rect x="373.40" y="313.40" width="1.60" height="1.60" fill="#111" />
<rect x="378.40" y="313.40" width="1.60" height="1.60" fill="#111" />
<rect x="368.90" y="317.70" width="1.60" height="1.60" fill="#111" />
<rect x="378.40" y="317.70" width="1.60" height="1.60" fill="#111" />
<rect x="373.40" y="322.20" width="1.60" height="1.60" fill="#111" />
<rect x="363.80" y="326.50" width="1.60" height="1.60" fill="#111" />
<rect x="382.70" y="326.50" width="1.60" height="1.60" fill="#111" />
<rect x="387.20" y="326.50" width="1.60" height="1.60" fill="#111" />
<rect x="368.90" y="330.80" width="1.60" height="1.60" fill="#111" />
<rect x="373.40" y="330.80" width="1.60" height="1.60" fill="#111" />
<rect x="378.40" y="330.80" width="1.60" height="1.60" fill="#111" />
<rect x="368.90" y="339.60" width="1.60" height="1.60" fill="#111" />
<rect x="373.40" y="339.60" width="1.60" height="1.60" fill="#111" />
<rect x="378.40" y="339.60" width="1.60" height="1.60" fill="#111" />
<rect x="368.90" y="343.70" width="1.60" height="1.60" fill="#111" />
<rect x="378.40" y="343.70" width="1.60" height="1.60" fill="#111" />
<rect x="382.70" y="343.70" width="1.60" height="1.60" fill="#111" />
<rect x="373.40" y="348.40" width="1.60" height="1.60" fill="#111" />
<rect x="378.40" y="352.70" width="1.60" height="1.60" fill="#111" />
<rect x="368.90" y="357.00" width="1.60" height="1.60" fill="#111" />
<rect x="373.40" y="357.00" width="1.60" height="1.60" fill="#111" />
<rect x="361.40" y="361.30" width="1.60" height="1.60" fill="#111" />
<rect x="366.10" y="361.30" width="1.60" height="1.60" fill="#111" />
<rect x="370.80" y="361.30" width="1.60" height="1.60" fill="#111" />
<rect x="375.30" y="361.30" width="1.60" height="1.60" fill="#111" />
<rect x="380.20" y="361.30" width="1.60" height="1.60" fill="#111" />
<rect x="385.00" y="361.30" width="1.60" height="1.60" fill="#111" />
<rect x="389.70" y="361.30" width="1.60" height="1.60" fill="#111" />
<rect x="355.10" y="365.50" width="1.60" height="1.60" fill="#111" />
<rect x="359.40" y="365.50" width="1.60" height="1.60" fill="#111" />
<rect x="364.10" y="365.50" width="1.60" height="1.60" fill="#111" />
<rect x="368.50" y="365.50" width="1.60" height="1.60" fill="#111" />
<rect x="373.30" y="365.50" width="1.60" height="1.60" fill="#111" />
<rect x="378.00" y="365.50" width="1.60" height="1.60" fill="#111" />
<rect x="382.30" y="365.50" width="1.60" height="1.60" fill="#111" />
<rect x="387.00" y="365.50" width="1.60" height="1.60" fill="#111" />
<rect x="391.70" y="365.50" width="1.60" height="1.60" fill="#111" />
<rect x="361.40" y="369.80" width="1.60" height="1.60" fill="#111" />
<rect x="366.10" y="369.80" width="1.60" height="1.60" fill="#111" />
<rect x="370.80" y="369.80" width="1.60" height="1.60" fill="#111" />
<rect x="375.30" y="369.80" width="1.60" height="1.60" fill="#111" />
<rect x="380.20" y="369.80" width="1.60" height="1.60" fill="#111" />
<rect x="359.40" y="374.10" width="1.60" height="1.60" fill="#111" />
<rect x="364.10" y="374.10" width="1.60" height="1.60" fill="#111" />
<rect x="368.50" y="374.10" width="1.60" height="1.60" fill="#111" />
<rect x="373.30" y="374.10" width="1.60" height="1.60" fill="#111" />
<rect x="378.00" y="374.10" width="1.60" height="1.60" fill="#111" />
<rect x="382.30" y="374.10" width="1.60" height="1.60" fill="#111" />
<rect x="387.00" y="374.10" width="1.60" height="1.60" fill="#111" />
<rect x="356.70" y="378.50" width="1.60" height="1.60" fill="#111" />
<rect x="364.10" y="378.50" width="1.60" height="1.60" fill="#111" />
<rect x="371.50" y="378.50" width="1.60" height="1.60" fill="#111" />
<rect x="379.30" y="378.50" width="1.60" height="1.60" fill="#111" />
<rect x="386.60" y="378.50" width="1.60" height="1.60" fill="#111" />
<rect x="394.10" y="378.50" width="1.60" height="1.60" fill="#111" />
<rect x="355.10" y="383.00" width="1.60" height="1.60" fill="#111" />
<rect x="359.40" y="383.00" width="1.60" height="1.60" fill="#111" />
<rect x="364.10" y="383.00" width="1.60" height="1.60" fill="#111" />
<rect x="368.50" y="383.00" width="1.60" height="1.60" fill="#111" />
<rect x="373.30" y="383.00" width="1.60" height="1.60" fill="#111" />
<rect x="378.00" y="383.00" width="1.60" height="1.60" fill="#111" />
<rect x="382.30" y="383.00" width="1.60" height="1.60" fill="#111" />
<rect x="387.00" y="383.00" width="1.60" height="1.60" fill="#111" />
<rect x="391.70" y="383.00" width="1.60" height="1.60" fill="#111" />
<rect x="355.10" y="391.60" width="1.60" height="1.60" fill="#111" />
<rect x="359.40" y="391.60" width="1.60" height="1.60" fill="#111" />
<rect x="364.10" y="391.60" width="1.60" height="1.60" fill="#111" />
<rect x="368.50" y="391.60" width="1.60" height="1.60" fill="#111" />
<rect x="373.30" y="391.60" width="1.60" height="1.60" fill="#111" />
<rect x="378.00" y="391.60" width="1.60" height="1.60" fill="#111" />
<rect x="382.30" y="391.60" width="1.60" height="1.60" fill="#111" />
<rect x="387.00" y="391.60" width="1.60" height="1.60" fill="#111" />
<rect x="391.70" y="391.60" width="1.60" height="1.60" fill="#111" />
<rect x="353.80" y="396.10" width="1.60" height="1.60" fill="#111" />
<rect x="356.85" y="396.10" width="1.60" height="1.60" fill="#111" />
<rect x="359.90" y="396.10" width="1.60" height="1.60" fill="#111" />
<rect x="362.95" y="396.10" width="1.60" height="1.60" fill="#111" />
<rect x="366.00" y="396.10" width="1.60" height="1.60" fill="#111" />
<rect x="369.05" y="396.10" width="1.60" height="1.60" fill="#111" />
<rect x="372.10" y="396.10" width="1.60" height="1.60" fill="#111" />
<rect x="375.15" y="396.10" width="1.60" height="1.60" fill="#111" />
<rect x="378.20" y="396.10" width="1.60" height="1.60" fill="#111" />
<rect x="381.25" y="396.10" width="1.60" height="1.60" fill="#111" />
<rect x="384.30" y="396.10" width="1.60" height="1.60" fill="#111" />
<rect x="387.35" y="396.10" width="1.60" height="1.60" fill="#111" />
<rect x="390.40" y="396.10" width="1.60" height="1.60" fill="#111" />
<rect x="393.45" y="396.10" width="1.60" height="1.60" fill="#111" />
<rect x="352.20" y="400.60" width="1.60" height="1.60" fill="#111" />
<rect x="354.55" y="400.60" width="1.60" height="1.60" fill="#111" />
<rect x="356.90" y="400.60" width="1.60" height="1.60" fill="#111" />
<rect x="359.25" y="400.60" width="1.60" height="1.60" fill="#111" />
<rect x="361.60" y="400.60" width="1.60" height="1.60" fill="#111" />
<rect x="363.95" y="400.60" width="1.60" height="1.60" fill="#111" />
<rect x="366.30" y="400.60" width="1.60" height="1.60" fill="#111" />
<rect x="368.65" y="400.60" width="1.60" height="1.60" fill="#111" />
<rect x="371.00" y="400.60" width="1.60" height="1.60" fill="#111" />
<rect x="373.35" y="400.60" width="1.60" height="1.60" fill="#111" />
<rect x="375.70" y="400.60" width="1.60" height="1.60" fill="#111" />
<rect x="378.05" y="400.60" width="1.60" height="1.60" fill="#111" />
<rect x="380.40" y="400.60" width="1.60" height="1.60" fill="#111" />
<rect x="382.75" y="400.60" width="1.60" height="1.60" fill="#111" />
<rect x="385.10" y="400.60" width="1.60" height="1.60" fill="#111" />
<rect x="387.45" y="400.60" width="1.60" height="1.60" fill="#111" />
<rect x="389.80" y="400.60" width="1.60" height="1.60" fill="#111" />
<rect x="392.15" y="400.60" width="1.60" height="1.60" fill="#111" />
<rect x="394.50" y="400.60" width="1.60" height="1.60" fill="#111" />
<rect x="352.20" y="405.10" width="1.60" height="1.60" fill="#111" />
<rect x="354.55" y="405.10" width="1.60" height="1.60" fill="#111" />
<rect x="356.90" y="405.10" width="1.60" height="1.60" fill="#111" />
<rect x="359.25" y="405.10" width="1.60" height="1.60" fill="#111" />
<rect x="361.60" y="405.10" width="1.60" height="1.60" fill="#111" />
<rect x="363.95" y="405.10" width="1.60" height="1.60" fill="#111" />
<rect x="366.30" y="405.10" width="1.60" height="1.60" fill="#111" />
<rect x="368.65" y="405.10" width="1.60" height="1.60" fill="#111" />
<rect x="371.00" y="405.10" width="1.60" height="1.60" fill="#111" />
<rect x="373.35" y="405.10" width="1.60" height="1.60" fill="#111" />
<rect x="375.70" y="405.10" width="1.60" height="1.60" fill="#111" />
<rect x="378.05" y="405.10" width="1.60" height="1.60" fill="#111" />
<rect x="380.40" y="405.10" width="1.60" height="1.60" fill="#111" />
<rect x="382.75" y="405.10" width="1.60" height="1.60" fill="#111" />
<rect x="385.10" y="405.10" width="1.60" height="1.60" fill="#111" />
<rect x="387.45" y="405.10" width="1.60" height="1.60" fill="#111" />
<rect x="389.80" y="405.10" width="1.60" height="1.60" fill="#111" />
<rect x="392.15" y="405.10" width="1.60" height="1.60" fill="#111" />
<rect x="394.50" y="405.10" width="1.60" height="1.60" fill="#111" />
<rect x="354.20" y="409.10" width="1.60" height="1.60" fill="#111" />
<rect x="356.45" y="409.10" width="1.60" height="1.60" fill="#111" />
<rect x="358.70" y="409.10" width="1.60" height="1.60" fill="#111" />
<rect x="360.95" y="409.10" width="1.60" height="1.60" fill="#111" />
<rect x="363.20" y="409.10" width="1.60" height="1.60" fill="#111" />
<rect x="365.45" y="409.10" width="1.60" height="1.60" fill="#111" />
<rect x="367.70" y="409.10" width="1.60" height="1.60" fill="#111" />
<rect x="369.95" y="409.10" width="1.60" height="1.60" fill="#111" />
<rect x="372.20" y="409.10" width="1.60" height="1.60" fill="#111" />
<rect x="374.45" y="409.10" width="1.60" height="1.60" fill="#111" />
<rect x="376.70" y="409.10" width="1.60" height="1.60" fill="#111" />
<rect x="378.95" y="409.10" width="1.60" height="1.60" fill="#111" />
<rect x="381.20" y="409.10" width="1.60" height="1.60" fill="#111" />
<rect x="383.45" y="409.10" width="1.60" height="1.60" fill="#111" />
<rect x="385.70" y="409.10" width="1.60" height="1.60" fill="#111" />
<rect x="387.95" y="409.10" width="1.60" height="1.60" fill="#111" />
<rect x="390.20" y="409.10" width="1.60" height="1.60" fill="#111" />
<rect x="392.45" y="409.10" width="1.60" height="1.60" fill="#111" />
<rect x="394.70" y="409.10" width="1.60" height="1.60" fill="#111" />
<rect x="352.20" y="413.10" width="1.60" height="1.60" fill="#111" />
<rect x="354.55" y="413.10" width="1.60" height="1.60" fill="#111" />
<rect x="356.90" y="413.10" width="1.60" height="1.60" fill="#111" />
<rect x="359.25" y="413.10" width="1.60" height="1.60" fill="#111" />
<rect x="361.60" y="413.10" width="1.60" height="1.60" fill="#111" />
<rect x="363.95" y="413.10" width="1.60" height="1.60" fill="#111" />
<rect x="366.30" y="413.10" width="1.60" height="1.60" fill="#111" />
<rect x="368.65" y="413.10" width="1.60" height="1.60" fill="#111" />
<rect x="371.00" y="413.10" width="1.60" height="1.60" fill="#111" />
<rect x="373.35" y="413.10" width="1.60" height="1.60" fill="#111" />
<rect x="375.70" y="413.10" width="1.60" height="1.60" fill="#111" />
<rect x="378.05" y="413.10" width="1.60" height="1.60" fill="#111" />
<rect x="380.40" y="413.10" width="1.60" height="1.60" fill="#111" />
<rect x="382.75" y="413.10" width="1.60" height="1.60" fill="#111" />
<rect x="385.10" y="413.10" width="1.60" height="1.60" fill="#111" />
<rect x="387.45" y="413.10" width="1.60" height="1.60" fill="#111" />
<rect x="389.80" y="413.10" width="1.60" height="1.60" fill="#111" />
<rect x="392.15" y="413.10" width="1.60" height="1.60" fill="#111" />
<rect x="394.50" y="413.10" width="1.60" height="1.60" fill="#111" />
<rect x="368.50" y="417.80" width="1.60" height="1.60" fill="#111" />
<rect x="373.50" y="417.80" width="1.60" height="1.60" fill="#111" />
<rect x="378.20" y="417.80" width="1.60" height="1.60" fill="#111" />
<rect x="352.20" y="386.80" width="1.60" height="1.60" fill="#111" />
<rect x="355.00" y="386.80" width="1.60" height="1.60" fill="#111" />
<rect x="357.80" y="386.80" width="1.60" height="1.60" fill="#111" />
<rect x="360.60" y="386.80" width="1.60" height="1.60" fill="#111" />
<rect x="363.40" y="386.80" width="1.60" height="1.60" fill="#111" />
<rect x="366.20" y="386.80" width="1.60" height="1.60" fill="#111" />
<rect x="369.00" y="386.80" width="1.60" height="1.60" fill="#111" />
<rect x="371.80" y="386.80" width="1.60" height="1.60" fill="#111" />
<rect x="374.60" y="386.80" width="1.60" height="1.60" fill="#111" />
<rect x="377.40" y="386.80" width="1.60" height="1.60" fill="#111" />
<rect x="380.20" y="386.80" width="1.60" height="1.60" fill="#111" />
<rect x="383.00" y="386.80" width="1.60" height="1.60" fill="#111" />
<rect x="385.80" y="386.80" width="1.60" height="1.60" fill="#111" />
<rect x="388.60" y="386.80" width="1.60" height="1.60" fill="#111" />
<rect x="391.40" y="386.80" width="1.60" height="1.60" fill="#111" />
<rect x="394.20" y="386.80" width="1.60" height="1.60" fill="#111" />
<line x1="351.80" y1="389.40" x2="397.20" y2="389.40" stroke="#000" stroke-width="2.0" />
</svg>
</body></html>
